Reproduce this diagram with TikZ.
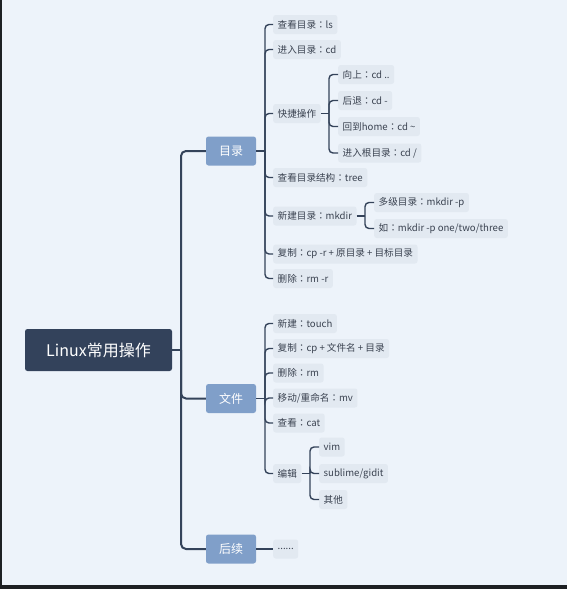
\documentclass[tikz,border=0pt]{standalone}
\usepackage{fontspec}
\setmainfont{Noto Sans CJK SC}
\newfontfamily\tcfont{Noto Sans CJK TC}
\newcommand\zhcolon{{\tcfont ：}}
\usetikzlibrary{positioning}
\definecolor{PageBg}{HTML}{EDF3FA}
\definecolor{FrameDark}{HTML}{1D2023}
\definecolor{RootNavy}{HTML}{33425B}
\definecolor{TopicBlue}{HTML}{809FC9}
\definecolor{LeafGrey}{HTML}{E2E9F1}
\definecolor{LineNavy}{HTML}{34435A}
\definecolor{LeafText}{HTML}{3A4250}

\begin{document}
\begin{tikzpicture}[
    x=1pt, y=-1pt,
    root/.style={fill=RootNavy, text=white, rounded corners=2.5pt, minimum width=147pt, minimum height=42pt, font=\fontsize{16}{18}\selectfont},
    topic/.style={fill=TopicBlue, text=white, rounded corners=2.5pt, minimum width=50pt, minimum height=29pt, font=\fontsize{12}{14}\selectfont},
    leaf/.style={fill=LeafGrey, text=LeafText, rounded corners=2.5pt, anchor=west, inner xsep=4.5pt, inner ysep=0pt, minimum height=19pt, font=\fontsize{9.6}{11}\selectfont},
    trunk/.style={LineNavy, line width=2pt, rounded corners=5pt},
    link/.style={LineNavy, line width=1.4pt, rounded corners=4pt},
]
    % Page
    \fill[PageBg] (0,0) rectangle (567,589);
    \fill[FrameDark] (0,0) rectangle (2,589);
    \fill[FrameDark] (0,585) rectangle (567,589);

    % Root and main topics
    \node[root] (root) at (98.5,350) {Linux常用操作};
    \node[topic] (mulu) at (231,151) {目录};
    \node[topic] (wenjian) at (231,398.5) {文件};
    \node[topic] (houxu) at (231,549) {后续};

    \coordinate (root-bus) at (181,350);
    \draw[trunk] (root.east) -- (root-bus);
    \foreach \t in {mulu,wenjian,houxu}
        \draw[trunk] (root-bus) |- (\t.west);

    % 目录
    \node[leaf] (ls) at (273,24.5) {查看目录\zhcolon ls};
    \node[leaf] (cd) at (273,49.5) {进入目录\zhcolon cd};
    \node[leaf] (quick) at (273,113.5) {快捷操作};
    \node[leaf] (tree) at (273,177.5) {查看目录结构\zhcolon tree};
    \node[leaf] (mkdir) at (273,216) {新建目录\zhcolon mkdir};
    \node[leaf] (cpdir) at (273,254) {复制\zhcolon cp -r + 原目录 + 目标目录};
    \node[leaf] (rmdir) at (273,278.5) {删除\zhcolon rm -r};

    \coordinate (mulu-bus) at (265,151);
    \draw[link] (mulu.east) -- (mulu-bus);
    \foreach \c in {ls,cd,quick,tree,mkdir,cpdir,rmdir}
        \draw[link] (mulu-bus) |- (\c.west);

    % 快捷操作
    \node[leaf] (up) at (338,74.5) {向上\zhcolon cd ..};
    \node[leaf] (back) at (338,100.5) {后退\zhcolon cd -};
    \node[leaf] (home) at (338,126.5) {回到home\zhcolon cd \textasciitilde};
    \node[leaf] (rootdir) at (338,153) {进入根目录\zhcolon cd /};

    \coordinate (quick-bus) at (329,113.5);
    \draw[link] (quick.east) -- (quick-bus);
    \foreach \c in {up,back,home,rootdir}
        \draw[link] (quick-bus) |- (\c.west);

    % 新建目录
    \node[leaf] (multi) at (374,202.5) {多级目录\zhcolon mkdir -p};
    \node[leaf] (sample) at (374,228.5) {如\zhcolon mkdir -p one/two/three};

    \coordinate (mkdir-bus) at (365,216);
    \draw[link] (mkdir.east) -- (mkdir-bus);
    \foreach \c in {multi,sample}
        \draw[link] (mkdir-bus) |- (\c.west);

    % 文件
    \node[leaf] (touch) at (273,323.5) {新建\zhcolon touch};
    \node[leaf] (cpfile) at (273,348.5) {复制\zhcolon cp + 文件名 + 目录};
    \node[leaf] (rmfile) at (273,373) {删除\zhcolon rm};
    \node[leaf] (mv) at (273,398) {移动/重命名\zhcolon mv};
    \node[leaf] (cat) at (273,423) {查看\zhcolon cat};
    \node[leaf] (edit) at (273,473.5) {编辑};

    \coordinate (wenjian-bus) at (265,398.5);
    \draw[link] (wenjian.east) -- (wenjian-bus);
    \foreach \c in {touch,cpfile,rmfile,mv,cat,edit}
        \draw[link] (wenjian-bus) |- (\c.west);

    % 编辑
    \node[leaf] (vim) at (319,447) {vim};
    \node[leaf] (sublime) at (319,473.5) {sublime/gidit};
    \node[leaf] (other) at (319,499.5) {其他};

    \coordinate (edit-bus) at (310,473.5);
    \draw[link] (edit.east) -- (edit-bus);
    \foreach \c in {vim,sublime,other}
        \draw[link] (edit-bus) |- (\c.west);

    % 后续
    \node[leaf] (more) at (273,549) {......};
    \draw[link] (houxu.east) -- (more.west);

\end{tikzpicture}
\end{document}
